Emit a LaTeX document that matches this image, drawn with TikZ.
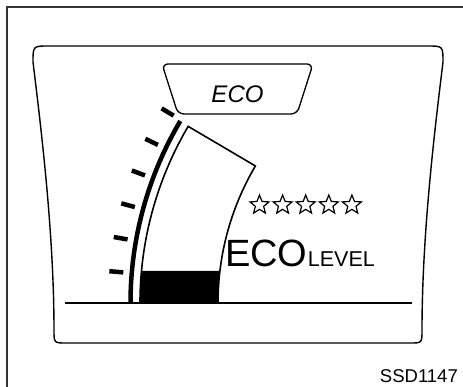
\documentclass[tikz,border=0pt]{standalone}
\usepackage{fontspec}
\setsansfont{Liberation Sans}
\usetikzlibrary{shapes.geometric, positioning, calc}
\tikzset{
  housing/.style={draw=black, line width=1.4pt},
  ecotab/.style={draw=black, line width=1.3pt, rounded corners=6pt},
  gaugearc/.style={line width=4.5pt},
  tickmark/.style={line width=4.5pt},
  barbox/.style={draw=black, line width=1.6pt},
  staricon/.style={star, star points=5, star point ratio=2.3, draw=black, line width=1.2pt, minimum size=20pt, inner sep=0pt}
}

\begin{document}
\begin{tikzpicture}[
        x=1pt, y=1pt,
        every node/.style={font=\sffamily, inner sep=0pt} % <-- all text in sans
    ]
        \useasboundingbox (0,0) rectangle (463,387);
        % outer frame
        \draw[line width=1.3pt, black!80] (7,0) -- (7,380) -- (463,380);

        % display housing
        \draw[housing] (49,341) -- (427,341) .. controls (443,341) .. (443,325)
            .. controls (436,267) and (422,157) .. (422,57)
            .. controls (422,44) .. (410,44) -- (66,44)
            .. controls (54,44) .. (54,57)
            .. controls (54,157) and (40,267) .. (33,325)
            .. controls (33,341) .. (49,341) -- cycle;

        % eco tab
        \draw[ecotab] (162,323) -- (313,323) -- (297,273) -- (178,273) -- cycle;
        \node[font=\sffamily\itshape\fontsize{24}{24}\selectfont] (eco) at (237.5,293) {ECO};

        % gauge
        \coordinate (c) at (488,84);
        \draw[gaugearc] ($(c)+(180:357.5pt)$) arc[start angle=180, end angle=149.4, radius=357.5pt];
        \foreach \a in {175.2,170,164.8,159.6,154.4,149.2}
            \draw[tickmark] ($(c)+(\a:366pt)$) -- ($(c)+(\a:380pt)$);

        \fill ($(c)+(180:348pt)$) arc[start angle=180, end angle=174.72, radius=348pt]
            -- ($(c)+(173.19:270pt)$) arc[start angle=173.19, end angle=180, radius=270pt] -- cycle;
        \draw[barbox] ($(c)+(180:348pt)$) arc[start angle=180, end angle=149.5, radius=348pt]
            -- ($(c)+(149.5:270pt)$) arc[start angle=149.5, end angle=180, radius=270pt];

        \draw[line width=1.2pt] (65,84) -- (412,84);

        % stars and level text
        \foreach \i in {0,...,4}
            \node[staricon] (star\i) at (259.5+23.1*\i,182) {};
        \node[font=\sffamily\fontsize{38}{38}\selectfont, anchor=base west] (ecobig) at (225,120) {ECO};
        \node[font=\sffamily\fontsize{21.5}{21.5}\selectfont, base right=0pt of ecobig] (level) {LEVEL};

        \node[font=\sffamily\fontsize{18.5}{18.5}\selectfont, anchor=base east] (code) at (458,4) {SSD1147};
    \end{tikzpicture}
\end{document}
